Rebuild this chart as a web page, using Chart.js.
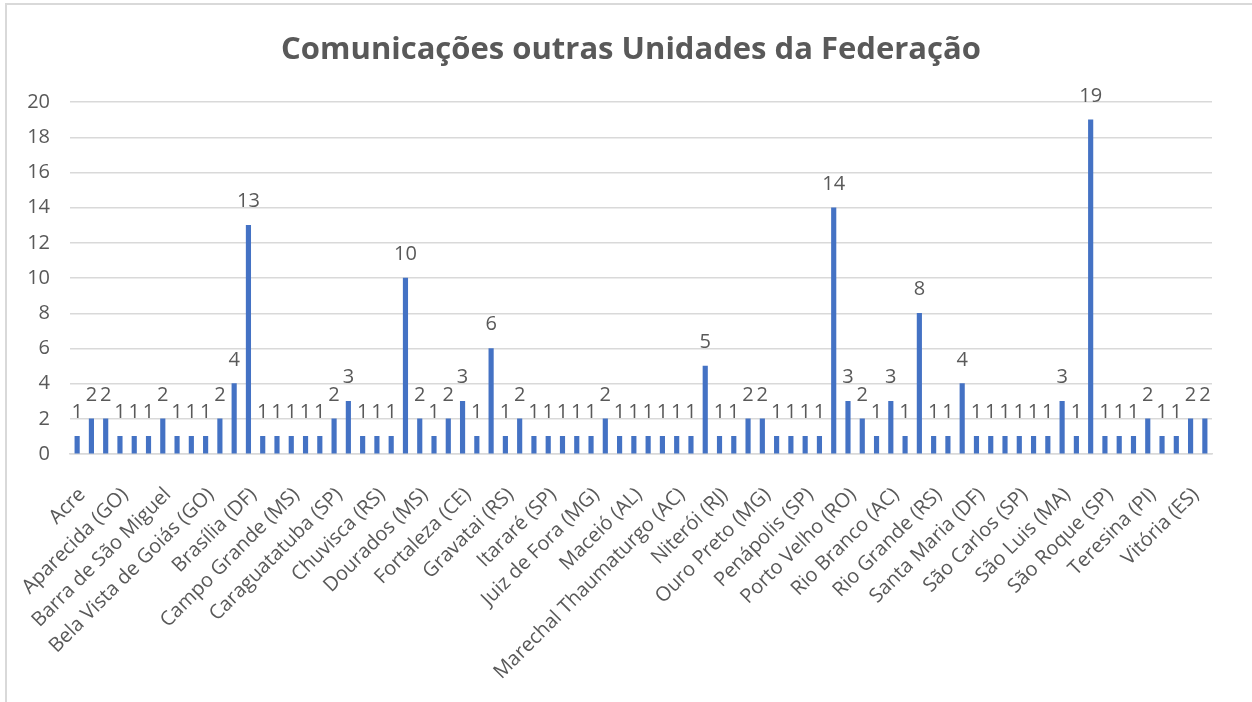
<!DOCTYPE html>
<html><head><meta charset="utf-8">
<script src="https://cdn.jsdelivr.net/npm/chart.js@4.4.1/dist/chart.umd.min.js"></script>
<style>
html,body{margin:0;padding:0;background:#fff;}
#wrap{position:absolute;left:0;top:0;width:1252px;height:702px;overflow:hidden;}
#frame{position:absolute;left:5px;top:3px;width:1270px;height:720px;border-left:2px solid #d9d9d9;border-top:2px solid #d9d9d9;box-sizing:border-box;}
canvas{position:absolute;left:0;top:0;}
</style></head><body>
<div id="wrap"><div id="frame"></div><canvas id="c" width="1252" height="702"></canvas></div>
<script>
const chartTitle = "Comunicações outras Unidades da Federação";
// 80 categories; only every third name is visible in the reference (others unknown -> blank)
const categories = [
 "Acre","","","Aparecida (GO)","","","Barra de São Miguel","","","Bela Vista de Goiás (GO)",
 "","","Brasília (DF)","","","Campo Grande (MS)","","","Caraguatatuba (SP)","",
 "","Chuvisca (RS)","","","Dourados (MS)","","","Fortaleza (CE)","","",
 "Gravatai (RS)","","","Itararé (SP)","","","Juiz de Fora (MG)","","","Maceió (AL)",
 "","","Marechal Thaumaturgo (AC)","","","Niterói (RJ)","","","Ouro Preto (MG)","",
 "","Penápolis (SP)","","","Porto Velho (RO)","","","Rio Branco (AC)","","",
 "Rio Grande (RS)","","","Santa Maria (DF)","","","São Carlos (SP)","","","São Luis (MA)",
 "","","São Roque (SP)","","","Teresina (PI)","","","Vitória (ES)",""
];
const values = [
 1,2,2,1,1,1,2,1,1,1, 2,4,13,1,1,1,1,1,2,3,
 1,1,1,10,2,1,2,3,1,6, 1,2,1,1,1,1,1,2,1,1,
 1,1,1,1,5,1,1,2,2,1, 1,1,1,14,3,2,1,3,1,8,
 1,1,4,1,1,1,1,1,1,3, 1,19,1,1,1,2,1,1,2,2
];
const yTicks = [0,2,4,6,8,10,12,14,16,18,20];

const textColor = '#595959';
const valueLabels = {
  id: 'valueLabels',
  afterDatasetsDraw(chart) {
    const ctx = chart.ctx;
    const meta = chart.getDatasetMeta(0);
    const data = chart.data.datasets[0].data;
    ctx.save();
    ctx.font = '20px "Open Sans"';
    ctx.fillStyle = textColor;
    ctx.textAlign = 'center';
    ctx.textBaseline = 'alphabetic';
    meta.data.forEach((bar, i) => {
      ctx.fillText(String(data[i]), bar.x, bar.y - 18);
    });
    ctx.restore();
  }
};

new Chart(document.getElementById('c'), {
  type: 'bar',
  data: {
    labels: categories,
    datasets: [{
      data: values,
      backgroundColor: '#4472C4',
      borderWidth: 0,
      barThickness: 4.5
    }]
  },
  options: {
    responsive: false,
    animation: false,
    devicePixelRatio: 1,
    layout: { padding: { left: 10, right: 0, top: 0, bottom: 0 } },
    plugins: {
      legend: { display: false },
      tooltip: { enabled: false },
      title: {
        display: true,
        text: chartTitle,
        color: textColor,
        font: { family: 'Open Sans', size: 31, weight: 'bold' },
        padding: { top: 32, bottom: 33 }
      }
    },
    scales: {
      x: {
        grid: { display: false, drawTicks: false },
        border: { display: true, color: '#d9d9d9', width: 1.5 },
        ticks: {
          autoSkip: false,
          minRotation: 45,
          maxRotation: 45,
          color: textColor,
          font: { family: 'Open Sans', size: 20 },
          padding: 29,
          labelOffset: 5
        },
        afterFit(scale) { scale.height = 248; }
      },
      y: {
        min: 0,
        max: 20,
        afterBuildTicks(scale) { scale.ticks = yTicks.map(v => ({ value: v })); },
        grid: { color: '#d9d9d9', lineWidth: 1.5, drawTicks: false },
        border: { display: false },
        ticks: {
          color: textColor,
          font: { family: 'Open Sans', size: 20 },
          padding: 20
        },
        afterFit(scale) { scale.width = 60; }
      },
      yRight: {
        position: 'right',
        min: 0,
        max: 20,
        grid: { display: false, drawTicks: false },
        border: { display: false },
        ticks: { display: false },
        afterFit(scale) { scale.width = 40; }
      }
    }
  },
  plugins: [valueLabels]
});
</script>
</body></html>
